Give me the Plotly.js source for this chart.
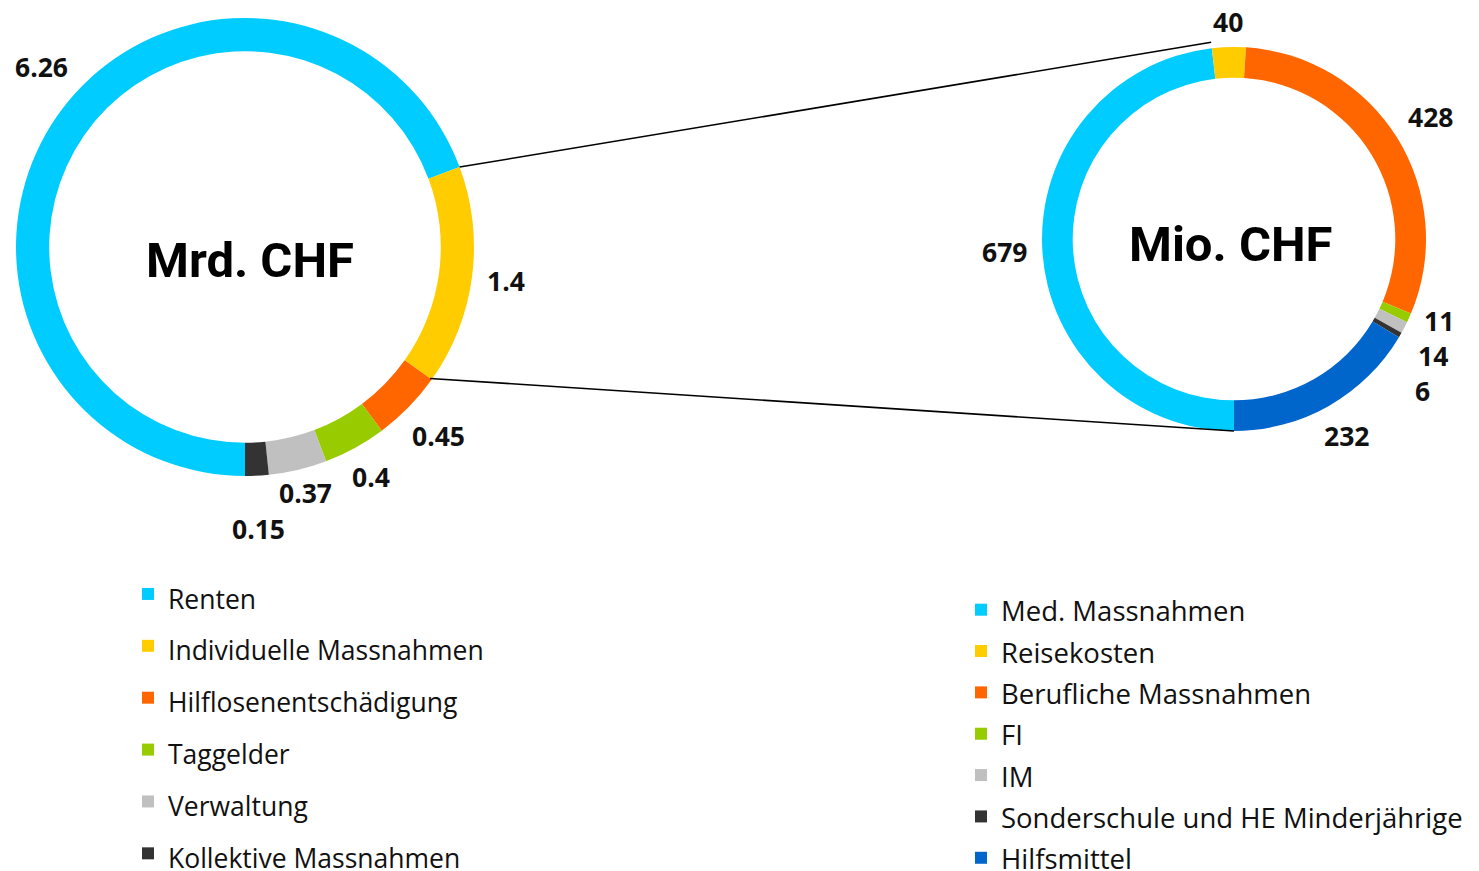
<!DOCTYPE html>
<html>
<head>
<meta charset="utf-8">
<script src="https://cdn.plot.ly/plotly-3.0.1.min.js"></script>
<style>html,body{margin:0;padding:0;background:#fff}#chart{width:1479px;height:871px}</style>
</head>
<body>
<div id="chart"></div>
<script>
// Left donut (Mrd. CHF)
const leftLabels = ["Renten", "Individuelle Massnahmen", "Hilflosenentschädigung", "Taggelder", "Verwaltung", "Kollektive Massnahmen"];
const leftValues = [6.26, 1.4, 0.45, 0.4, 0.37, 0.15];
const leftColors = ["#00CCFF", "#FFCC00", "#FF6600", "#99CC00", "#C0C0C0", "#333333"];

// Right donut (Mio. CHF) - breakdown of Individuelle Massnahmen
const rightLabels = ["Med. Massnahmen", "Reisekosten", "Berufliche Massnahmen", "FI", "IM", "Sonderschule und HE Minderjährige", "Hilfsmittel"];
const rightValues = [679, 40, 428, 11, 14, 6, 232];
const rightColors = ["#00CCFF", "#FFCC00", "#FF6600", "#99CC00", "#C0C0C0", "#333333", "#0066CC"];

const centerTitles = ["Mrd. CHF", "Mio. CHF"];

const W = 1479, H = 871;
const leftDom = {x: [16 / W, 474 / W], y: [1 - 476 / H, 1 - 18 / H]};
const rightDom = {x: [1042 / W, 1426 / W], y: [1 - 431 / H, 1 - 47 / H]};

const LBL_SIZE = 26.5;
const labelFont = {family: "Open Sans, sans-serif", size: LBL_SIZE, color: "#111111", weight: 700};

function legendText(arr, size) {
  return arr.map(s => '<span style="font-size:' + size + 'px">' + s + '</span>');
}

const traces = [
  {
    type: "pie", labels: legendText(leftLabels, 26.5), values: leftValues, sort: false, direction: "clockwise", rotation: 180,
    hole: 0.855, domain: leftDom, marker: {colors: leftColors, line: {width: 0}},
    textinfo: "none", legend: "legend", showlegend: true, hoverinfo: "skip"
  },
  {
    type: "pie", labels: legendText(rightLabels, 27.5), values: rightValues, sort: false, direction: "clockwise", rotation: 180,
    hole: 0.84, domain: rightDom, marker: {colors: rightColors, line: {width: 0}},
    textinfo: "none", legend: "legend2", showlegend: true, hoverinfo: "skip"
  }
];

// geometry helpers (same rule Plotly uses: radius = half of the smaller domain side)
function geom(dom) {
  const cx = (dom.x[0] + dom.x[1]) / 2 * W;
  const cy = (1 - (dom.y[0] + dom.y[1]) / 2) * H;
  const r = Math.min((dom.x[1] - dom.x[0]) * W, (dom.y[1] - dom.y[0]) * H) / 2;
  return {cx, cy, r};
}
function pxPt(g, deg, r) {
  const a = deg * Math.PI / 180;
  return {x: g.cx + r * Math.sin(a), y: g.cy - r * Math.cos(a)};
}
function toPaper(p) { return {x: p.x / W, y: 1 - p.y / H}; }

// value labels placed outside each slice at its mid angle, with simple overlap avoidance
function valueLabels(values, dom) {
  const g = geom(dom);
  const total = values.reduce((a, b) => a + b, 0);
  let acc = 0;
  const items = values.map(v => {
    const mid = 180 + (acc + v / 2) / total * 360;
    acc += v;
    const s = String(v);
    const w = [...s].reduce((t, c) => t + (c === "." ? 0.3 : 0.6), 0) * LBL_SIZE;
    const h = LBL_SIZE * 0.9;
    const a = mid * Math.PI / 180;
    const ext = Math.abs(Math.sin(a)) * w / 2 + Math.abs(Math.cos(a)) * h / 2;
    const d = g.r + 13 + ext;
    const p = pxPt(g, mid, d);
    // keep the label inside the page: slide it along its circle if needed
    const minX = w / 2 + 14, maxX = W - w / 2 - 14;
    if (p.x < minX || p.x > maxX) {
      const nx = Math.min(Math.max(p.x, minX), maxX);
      const dx = nx - g.cx;
      const dy = Math.sqrt(Math.max(d * d - dx * dx, 0));
      p.y = g.cy + (p.y < g.cy ? -dy : dy);
      p.x = nx;
    }
    return {text: s, x: p.x, y: p.y, w, h, right: Math.sin(a) >= 0};
  });
  [true, false].forEach(side => {
    const grp = items.filter(it => it.right === side).sort((a, b) => a.y - b.y);
    const gap = LBL_SIZE * 1.33;
    let i = 1;
    while (i < grp.length) {
      // collect a run of colliding labels
      let j = i;
      const run = [grp[i - 1]];
      const orig = [grp[i - 1].y];
      while (j < grp.length) {
        const p = grp[j - 1], c = grp[j];
        if (Math.abs(c.x - p.x) < (c.w + p.w) / 2 && c.y - p.y < gap) {
          orig.push(c.y);
          c.y = p.y + gap;
          run.push(c);
          j++;
        } else break;
      }
      if (run.length > 1) {
        const m0 = orig.reduce((a, b) => a + b, 0) / orig.length;
        const m1 = run.reduce((a, b) => a + b.y, 0) / run.length;
        run.forEach(it => { it.y -= (m1 - m0) * 0.4; });
      }
      i = j + 1;
    }
  });
  return items.map(it => ({
    text: "<b>" + it.text + "</b>", xref: "paper", yref: "paper", x: it.x / W, y: 1 - it.y / H,
    xanchor: "center", yanchor: "middle", showarrow: false, font: labelFont
  }));
}

// connector lines derived from slice boundaries
const lsum = leftValues.reduce((a, b) => a + b, 0);
const rsum = rightValues.reduce((a, b) => a + b, 0);
const lg = geom(leftDom), rg = geom(rightDom);
const aTop = 180 + leftValues[0] / lsum * 360;
const aBot = 180 + (leftValues[0] + leftValues[1]) / lsum * 360;
const bTop = 180 + rightValues[0] / rsum * 360;
const bBot = 180 + 360;
const p1 = toPaper(pxPt(lg, aTop, lg.r)), p2 = toPaper(pxPt(rg, bTop, rg.r + 6));
const p3 = toPaper(pxPt(lg, aBot, lg.r - 2)), p4 = toPaper(pxPt(rg, bBot, rg.r));

const titleFont = {family: "Roboto, sans-serif", size: 49, color: "#000000", weight: 700};

const layout = {
  width: W, height: H,
  margin: {l: 0, r: 0, t: 0, b: 0, autoexpand: false},
  paper_bgcolor: "#ffffff",
  font: {family: "Open Sans, sans-serif", color: "#111111"},
  showlegend: true,
  legend: {x: 128 / W, y: 1 - 563 / H, xanchor: "left", yanchor: "top", font: {size: 37.6, color: "#111111"}, bgcolor: "rgba(0,0,0,0)"},
  legend2: {x: 961 / W, y: 1 - 584 / H, xanchor: "left", yanchor: "top", font: {size: 29.5, color: "#111111"}, bgcolor: "rgba(0,0,0,0)"},
  shapes: [
    {type: "line", xref: "paper", yref: "paper", x0: p1.x, y0: p1.y, x1: p2.x, y1: p2.y, line: {color: "#000000", width: 1.6}},
    {type: "line", xref: "paper", yref: "paper", x0: p3.x, y0: p3.y, x1: p4.x, y1: p4.y, line: {color: "#000000", width: 1.6}}
  ],
  annotations: [
    {text: "<b>" + centerTitles[0] + "</b>", xref: "paper", yref: "paper", x: 249.5 / W, y: 1 - 260 / H, showarrow: false,
     font: titleFont, xanchor: "center", yanchor: "middle"},
    {text: "<b>" + centerTitles[1] + "</b>", xref: "paper", yref: "paper", x: 1230 / W, y: 1 - 245 / H, showarrow: false,
     font: titleFont, xanchor: "center", yanchor: "middle"}
  ].concat(valueLabels(leftValues, leftDom), valueLabels(rightValues, rightDom))
};

Plotly.newPlot("chart", traces, layout, {displayModeBar: false, staticPlot: true});
</script>
</body>
</html>
